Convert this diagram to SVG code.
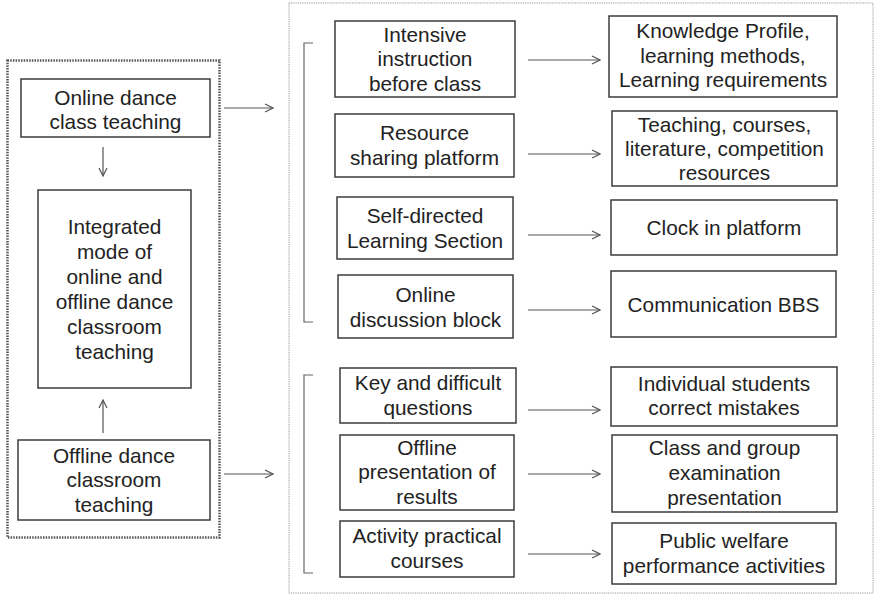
<svg xmlns="http://www.w3.org/2000/svg" width="875" height="594" viewBox="0 0 875 594">
<defs>
<style>
.box{fill:#fff;stroke:#3c3c3c;stroke-width:1.5}
.t{font-family:"Liberation Sans",Arial,Helvetica,sans-serif;font-size:20.8px;fill:#222;text-anchor:middle}
.c{stroke:#555;stroke-width:1.2;fill:none;marker-end:url(#ah)}
.br{stroke:#666;stroke-width:1.2;fill:none}
</style>
<marker id="ah" markerWidth="10" markerHeight="10" refX="9" refY="5" orient="auto" markerUnits="userSpaceOnUse">
<path d="M1,1 L9,5 L1,9" fill="none" stroke="#555" stroke-width="1.2"/>
</marker>
</defs>
<rect width="875" height="594" fill="#fff"/>
<rect x="7.5" y="60.5" width="212" height="477" fill="none" stroke="#555" stroke-width="2.5" stroke-dasharray="1.5,1.2"/>
<rect x="289" y="3" width="584" height="590" fill="none" stroke="#999" stroke-width="1" stroke-dasharray="1,0.8"/>

<g id="connectors">
<line class="c" x1="103" y1="147" x2="103" y2="176"/>
<line class="c" x1="103" y1="433" x2="103" y2="400"/>
<line class="c" x1="224" y1="108" x2="273" y2="108"/>
<line class="c" x1="224" y1="474" x2="273" y2="474"/>
<line class="c" x1="528" y1="60" x2="600" y2="60"/>
<line class="c" x1="528" y1="154" x2="600" y2="154"/>
<line class="c" x1="528" y1="235" x2="600" y2="235"/>
<line class="c" x1="528" y1="310" x2="600" y2="310"/>
<line class="c" x1="528" y1="410" x2="600" y2="410"/>
<line class="c" x1="528" y1="474" x2="600" y2="474"/>
<line class="c" x1="528" y1="554" x2="600" y2="554"/>
<path class="br" d="M313,43 H304 V322 H313"/>
<path class="br" d="M313,375 H304 V573 H313"/>
</g>

<g id="online">
<rect class="box" x="21" y="79" width="189" height="58"/>
<text class="t" x="115.5" y="105">Online dance</text>
<text class="t" x="115.5" y="129">class teaching</text>
</g>
<g id="integrated">
<rect class="box" x="38" y="190" width="153" height="198"/>
<text class="t" x="114.5" y="234">Integrated</text>
<text class="t" x="114.5" y="259">mode of</text>
<text class="t" x="114.5" y="284">online and</text>
<text class="t" x="114.5" y="309">offline dance</text>
<text class="t" x="114.5" y="334">classroom</text>
<text class="t" x="114.5" y="359">teaching</text>
</g>
<g id="offline">
<rect class="box" x="18" y="440" width="192" height="80"/>
<text class="t" x="114" y="463">Offline dance</text>
<text class="t" x="114" y="487">classroom</text>
<text class="t" x="114" y="512">teaching</text>
</g>

<g id="m1">
<rect class="box" x="335" y="21" width="180" height="76"/>
<text class="t" x="425" y="42">Intensive</text>
<text class="t" x="425" y="66">instruction</text>
<text class="t" x="425" y="91">before class</text>
</g>
<g id="m2">
<rect class="box" x="335" y="114" width="179" height="63"/>
<text class="t" x="424.5" y="140">Resource</text>
<text class="t" x="424.5" y="165">sharing platform</text>
</g>
<g id="m3">
<rect class="box" x="337" y="197" width="176" height="62"/>
<text class="t" x="425" y="223">Self-directed</text>
<text class="t" x="425" y="248">Learning Section</text>
</g>
<g id="m4">
<rect class="box" x="338" y="275" width="175" height="63"/>
<text class="t" x="425.5" y="302">Online</text>
<text class="t" x="425.5" y="327">discussion block</text>
</g>
<g id="m5">
<rect class="box" x="340" y="368" width="176" height="55"/>
<text class="t" x="428" y="390">Key and difficult</text>
<text class="t" x="428" y="415">questions</text>
</g>
<g id="m6">
<rect class="box" x="340" y="435" width="174" height="75"/>
<text class="t" x="427" y="455">Offline</text>
<text class="t" x="427" y="479">presentation of</text>
<text class="t" x="427" y="504">results</text>
</g>
<g id="m7">
<rect class="box" x="340" y="521" width="174" height="56"/>
<text class="t" x="427" y="543">Activity practical</text>
<text class="t" x="427" y="568">courses</text>
</g>

<g id="r1">
<rect class="box" x="609" y="16" width="228" height="81"/>
<text class="t" x="723" y="38">Knowledge Profile,</text>
<text class="t" x="723" y="63">learning methods,</text>
<text class="t" x="723" y="87">Learning requirements</text>
</g>
<g id="r2">
<rect class="box" x="612" y="111" width="225" height="75"/>
<text class="t" x="724.5" y="132">Teaching, courses,</text>
<text class="t" x="724.5" y="156">literature, competition</text>
<text class="t" x="724.5" y="180">resources</text>
</g>
<g id="r3">
<rect class="box" x="611" y="200" width="226" height="55"/>
<text class="t" x="724" y="235">Clock in platform</text>
</g>
<g id="r4">
<rect class="box" x="611" y="271" width="225" height="66"/>
<text class="t" x="723.5" y="312">Communication BBS</text>
</g>
<g id="r5">
<rect class="box" x="611" y="367" width="226" height="59"/>
<text class="t" x="724" y="391">Individual students</text>
<text class="t" x="724" y="415">correct mistakes</text>
</g>
<g id="r6">
<rect class="box" x="612" y="435" width="225" height="77"/>
<text class="t" x="724.5" y="455">Class and group</text>
<text class="t" x="724.5" y="480">examination</text>
<text class="t" x="724.5" y="505">presentation</text>
</g>
<g id="r7">
<rect class="box" x="612" y="523" width="224" height="61"/>
<text class="t" x="724" y="548">Public welfare</text>
<text class="t" x="724" y="573">performance activities</text>
</g>
</svg>
